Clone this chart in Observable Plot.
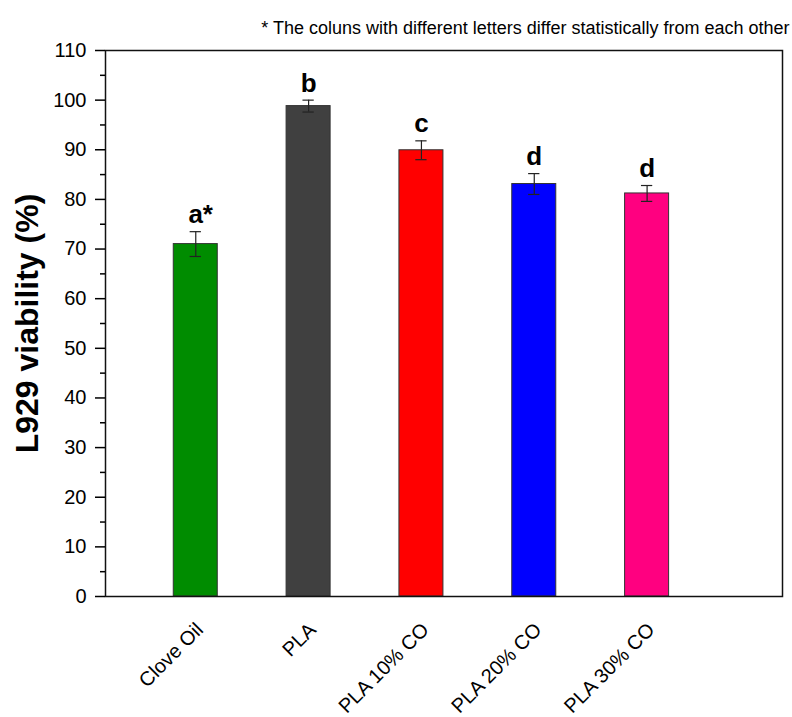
<!DOCTYPE html>
<html>
<head>
<meta charset="utf-8">
<script src="https://cdn.jsdelivr.net/npm/d3@7"></script>
<script src="https://cdn.jsdelivr.net/npm/@observablehq/plot@0.6"></script>
<style>
  html, body { margin: 0; padding: 0; background: white; }
</style>
</head>
<body>
<div id="chart"></div>
<script>
const categories = ["Clove Oil", "PLA", "PLA 10% CO", "PLA 20% CO", "PLA 30% CO"];
const viability = [71.0, 98.8, 89.9, 83.1, 81.2];
const errors = [2.5, 1.2, 1.9, 2.1, 1.6];
const letters = ["a", "b", "c", "d", "d"];
const stars = ["*", "", "", "", ""];
const colors = ["#008c00", "#404040", "#ff0000", "#0000ff", "#ff0080"];
const yTicks = [0, 10, 20, 30, 40, 50, 60, 70, 80, 90, 100, 110];
const yMinorTicks = [5, 15, 25, 35, 45, 55, 65, 75, 85, 95, 105];
const note = "* The coluns with different letters differ statistically from each other";
const yTitle = "L929 viability (%)";

const data = categories.map((c, i) => ({
  pos: i + 1, cat: c, v: viability[i], e: errors[i],
  letter: letters[i], star: stars[i], color: colors[i]
}));
const halfBar = 0.195, halfCap = 0.05;

const chart = Plot.plot({
  width: 792,
  height: 717,
  marginLeft: 105,
  marginRight: 10,
  marginTop: 50,
  marginBottom: 121,
  style: { fontFamily: "'Liberation Sans', Arial, sans-serif", fontSize: "20px", color: "black", background: "white" },
  x: { type: "linear", domain: [0.2, 6.2] },
  y: { domain: [0, 110] },
  color: { type: "identity" },
  marks: [
    Plot.rectY(data, { x1: d => d.pos - halfBar, x2: d => d.pos + halfBar, y: "v", fill: "color", stroke: "#333", strokeWidth: 1 }),
    Plot.ruleX(data, { x: "pos", y1: d => d.v - d.e, y2: d => d.v + d.e, stroke: "#222", strokeWidth: 1.2 }),
    Plot.ruleY(data, { y: d => d.v + d.e, x1: d => d.pos - halfCap, x2: d => d.pos + halfCap, stroke: "#222", strokeWidth: 1.2 }),
    Plot.ruleY(data, { y: d => d.v - d.e, x1: d => d.pos - halfCap, x2: d => d.pos + halfCap, stroke: "#222", strokeWidth: 1.2 }),
    Plot.text(data, { x: "pos", y: d => d.v + d.e, text: "letter", dy: -8.5, lineAnchor: "bottom", fontSize: 26, fontWeight: "bold" }),
    Plot.text(data, { x: "pos", y: d => d.v + d.e, text: "star", dy: -8.5, dx: 7, textAnchor: "start", lineAnchor: "bottom", fontSize: 26, fontWeight: "bold" }),
    Plot.frame({ stroke: "#111", strokeWidth: 1.5 }),
    Plot.axisY(yTicks, { tickSize: 10, tickPadding: 9, fontSize: 20, label: null, strokeWidth: 1.5 }),
    Plot.axisY(yMinorTicks, { tickSize: 5, tickFormat: () => "", label: null, strokeWidth: 1.5 }),
    Plot.axisX(data.map(d => d.pos), { tickFormat: i => categories[i - 1], tickRotate: -45, tickSize: 0, tickPadding: 30, dx: 4, fontSize: 20, label: null }),
    Plot.text([yTitle], { frameAnchor: "left", rotate: -90, dx: -78, textAnchor: "middle", lineAnchor: "middle", fontSize: 32, fontWeight: "bold" }),
    Plot.text([note], { frameAnchor: "top-right", dx: 7, dy: -17, textAnchor: "end", lineAnchor: "bottom", fontSize: 18 })
  ]
});
d3.select(chart).selectAll("g").filter(function () {
  const a = this.getAttribute("aria-label") || "";
  return a.includes("axis") && a.includes("label");
}).attr("font-size", 20).selectAll("text").style("font-size", "20px");
document.getElementById("chart").appendChild(chart);
</script>
</body>
</html>
